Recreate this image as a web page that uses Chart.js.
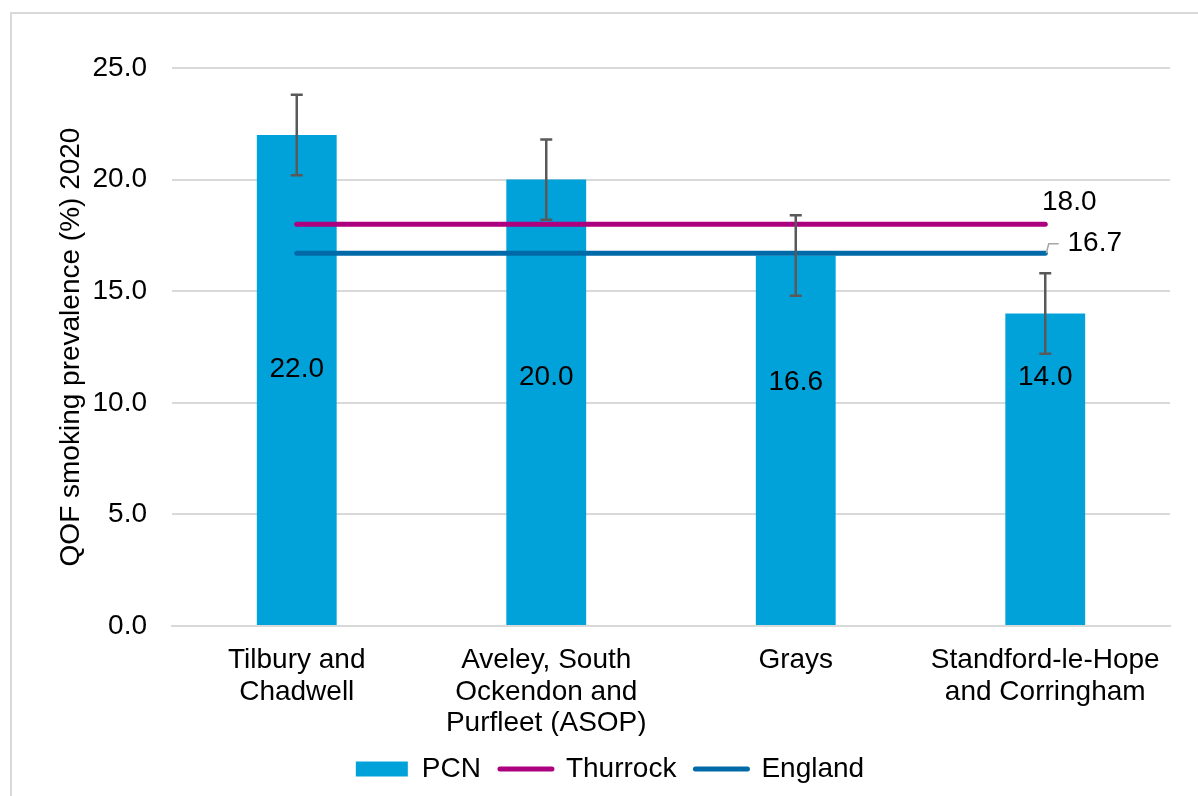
<!DOCTYPE html>
<html>
<head>
<meta charset="utf-8">
<script src="https://cdn.jsdelivr.net/npm/chart.js@4.4.0/dist/chart.umd.min.js"></script>
<style>
html, body { margin: 0; padding: 0; background: #fff; overflow: hidden; width: 1198px; height: 796px; }
#wrap { position: relative; width: 1198px; height: 796px; overflow: hidden; }
#box { position: absolute; left: 0; top: 0; width: 1198px; height: 793px; }
#frame { position: absolute; left: 10px; top: 12px; width: 1300px; height: 900px; border: 2px solid #d9d9d9; box-sizing: border-box; pointer-events: none; }
</style>
</head>
<body>
<div id="wrap"><div id="box"><canvas id="chart"></canvas></div><div id="frame"></div></div>
<script>
// data
const categories = [
    ['Tilbury and', 'Chadwell'],
    ['Aveley, South', 'Ockendon and', 'Purfleet (ASOP)'],
    ['Grays'],
    ['Standford-le-Hope', 'and Corringham']
];
const pcnValues = [22.0, 20.0, 16.6, 14.0];
const pcnLower = [20.2, 18.2, 14.8, 12.2];
const pcnUpper = [23.8, 21.8, 18.4, 15.8];
const thurrockValues = [18.0, 18.0, 18.0, 18.0];
const englandValues = [16.7, 16.7, 16.7, 16.7];
const yTickValues = [0, 5, 10, 15, 20, 25];

const FONT = '"Liberation Sans", Arial, sans-serif';
Chart.defaults.font.family = FONT;
Chart.defaults.font.size = 28;
Chart.defaults.color = '#000';

// error bars + value labels
const extrasPlugin = {
    id: 'extras',
    afterDatasetsDraw(chart, args, opts) {
        const ctx = chart.ctx;
        const y = chart.scales.y;
        const barMeta = chart.getDatasetMeta(0);
        ctx.save();
        // error bars
        ctx.strokeStyle = '#595959';
        ctx.lineWidth = 2.5;
        barMeta.data.forEach((bar, i) => {
            const top = y.getPixelForValue(pcnUpper[i]);
            const bot = y.getPixelForValue(pcnLower[i]);
            ctx.beginPath();
            ctx.moveTo(bar.x, top); ctx.lineTo(bar.x, bot);
            ctx.moveTo(bar.x - 6, top); ctx.lineTo(bar.x + 6, top);
            ctx.moveTo(bar.x - 6, bot); ctx.lineTo(bar.x + 6, bot);
            ctx.stroke();
        });
        // bar labels
        ctx.font = '28px ' + FONT;
        ctx.fillStyle = '#000';
        ctx.textAlign = 'center';
        ctx.textBaseline = 'middle';
        barMeta.data.forEach((bar, i) => {
            ctx.fillText(pcnValues[i].toFixed(1), bar.x, y.getPixelForValue(opts.barLabelAt[i]));
        });
        // line end labels
        const tMeta = chart.getDatasetMeta(1);
        const tPt = tMeta.data[tMeta.data.length - 1];
        ctx.fillText(thurrockValues[thurrockValues.length - 1].toFixed(1), tPt.x + 24, tPt.y - 22);
        const eMeta = chart.getDatasetMeta(2);
        const ePt = eMeta.data[eMeta.data.length - 1];
        ctx.strokeStyle = '#a6a6a6';
        ctx.lineWidth = 1.5;
        ctx.beginPath();
        ctx.moveTo(ePt.x + 1, ePt.y);
        ctx.lineTo(ePt.x + 3.5, ePt.y - 9.5);
        ctx.lineTo(ePt.x + 13.5, ePt.y - 9.5);
        ctx.stroke();
        ctx.fillText(englandValues[englandValues.length - 1].toFixed(1), ePt.x + 49.5, ePt.y - 9.5);
        ctx.restore();
    }
};

const ctx = document.getElementById('chart').getContext('2d');
new Chart(ctx, {
    type: 'bar',
    data: {
        labels: categories,
        datasets: [
            {
                type: 'bar',
                label: 'PCN',
                data: pcnValues,
                backgroundColor: '#00A2D9',
                borderWidth: 0,
                barPercentage: 0.32,
                categoryPercentage: 1,
                order: 3
            },
            {
                type: 'line',
                label: 'Thurrock',
                data: thurrockValues,
                borderColor: '#AD007F',
                backgroundColor: '#AD007F',
                borderWidth: 5,
                borderCapStyle: 'round',
                pointRadius: 0,
                order: 1
            },
            {
                type: 'line',
                label: 'England',
                data: englandValues,
                borderColor: '#006AA8',
                backgroundColor: '#006AA8',
                borderWidth: 5,
                borderCapStyle: 'round',
                pointRadius: 0,
                order: 2
            }
        ]
    },
    options: {
        responsive: true,
        maintainAspectRatio: false,
        animation: false,
        layout: { padding: { left: 50, right: 28, top: 68, bottom: 0 } },
        scales: {
            x: {
                grid: { display: false, drawTicks: false },
                border: { display: true, color: '#d9d9d9', width: 2 },
                ticks: { padding: 19, maxRotation: 0, autoSkip: false, font: { size: 28, lineHeight: 1.12 } },
                afterFit(scale) { scale.height = 110; }
            },
            y: {
                min: 0,
                max: 25,
                afterBuildTicks(scale) { scale.ticks = yTickValues.map(v => ({ value: v })); },
                grid: { color: '#d9d9d9', lineWidth: 2, drawTicks: false },
                border: { display: false },
                ticks: { padding: 25, callback: v => v.toFixed(1) },
                title: {
                    display: true,
                    text: 'QOF smoking prevalence (%) 2020',
                    font: { size: 28 },
                    padding: { top: 4, bottom: 0 }
                },
                afterFit(scale) { scale.width = 122; }
            }
        },
        plugins: {
            legend: {
                position: 'bottom',
                labels: {
                    usePointStyle: true,
                    pointStyleWidth: 52,
                    boxHeight: 15,
                    padding: 19,
                    font: { size: 28 },
                    generateLabels(chart) {
                        return chart.data.datasets.map((ds, i) => ({
                            text: ds.label,
                            fillStyle: ds.backgroundColor,
                            strokeStyle: ds.borderColor || ds.backgroundColor,
                            lineWidth: ds.type === 'line' ? 5 : 0,
                            lineCap: 'round',
                            pointStyle: ds.type === 'line' ? 'line' : 'rect',
                            datasetIndex: i,
                            hidden: false
                        }));
                    }
                }
            },
            tooltip: { enabled: false },
            extras: { barLabelAt: [11.5, 11.15, 10.9, 11.15] }
        }
    },
    plugins: [extrasPlugin]
});
</script>
</body>
</html>
